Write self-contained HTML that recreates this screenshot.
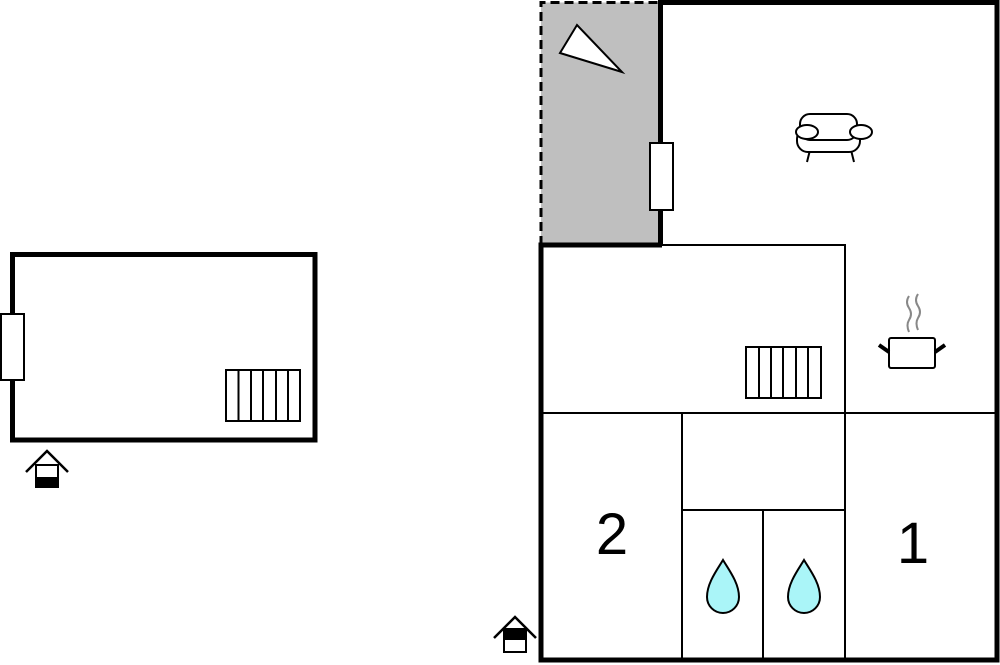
<!DOCTYPE html>
<html><head><style>body{margin:0;background:#fff}svg{display:block}</style></head><body>
<svg width="1000" height="665" viewBox="0 0 1000 665" xmlns="http://www.w3.org/2000/svg" font-family="Liberation Sans, sans-serif">
<rect x="12.5" y="254.5" width="302.5" height="185.5" fill="#fff" stroke="#000" stroke-width="5"/>
<rect x="1" y="314" width="23" height="66" fill="#fff" stroke="#000" stroke-width="2"/>
<g fill="#fff" stroke="#000" stroke-width="2">
<rect x="226" y="370" width="74" height="51"/>
<line x1="238.5" y1="370" x2="238.5" y2="421"/><line x1="251" y1="370" x2="251" y2="421"/><line x1="263" y1="370" x2="263" y2="421"/><line x1="276" y1="370" x2="276" y2="421"/><line x1="288" y1="370" x2="288" y2="421"/>
</g>
<polyline points="26,472 47,451 68,472" fill="none" stroke="#000" stroke-width="2.5"/>
<rect x="36" y="465" width="22" height="22" fill="#fff" stroke="#000" stroke-width="2"/>
<rect x="36" y="477" width="22" height="10" fill="#000"/>
<rect x="541" y="2.5" width="119" height="242" fill="#bfbfbf"/>
<path d="M541 245 V2.5 H660" fill="none" stroke="#000" stroke-width="3" stroke-dasharray="9,5"/>
<polygon points="577,25 560,53 622,72" fill="#fff" stroke="#000" stroke-width="2"/>
<g stroke="#000" stroke-width="2" fill="none">
<polyline points="660,245 845,245 845,660"/>
<line x1="541" y1="413" x2="997" y2="413"/>
<line x1="682" y1="413" x2="682" y2="660"/>
<line x1="682" y1="510" x2="845" y2="510"/>
<line x1="763" y1="510" x2="763" y2="660"/>
</g>
<path d="M660.5 245 V2.5 H997 V660 H541 V245 H662" fill="none" stroke="#000" stroke-width="5"/>
<rect x="650" y="143" width="23" height="67" fill="#fff" stroke="#000" stroke-width="2"/>
<g fill="#fff" stroke="#000" stroke-width="2">
<rect x="746" y="347" width="75" height="51"/>
<line x1="759" y1="347" x2="759" y2="398"/><line x1="771" y1="347" x2="771" y2="398"/><line x1="783" y1="347" x2="783" y2="398"/><line x1="796" y1="347" x2="796" y2="398"/><line x1="808" y1="347" x2="808" y2="398"/>
</g>
<g fill="#fff" stroke="#000" stroke-width="2">
<line x1="810" y1="150" x2="807" y2="162"/><line x1="851" y1="150" x2="854" y2="162"/>
<rect x="797" y="128" width="63" height="24" rx="11"/>
<rect x="800" y="114" width="57" height="26" rx="10"/>
<ellipse cx="807" cy="132" rx="11" ry="7"/>
<ellipse cx="861" cy="132" rx="11" ry="7"/>
</g>
<g stroke="#888" stroke-width="2" fill="none">
<path d="M909 296 q-4 6 0 12 q4 6 0 12 q-3 5 0 12"/>
<path d="M918 294 q-4 6 0 12 q4 6 0 12 q-3 5 0 12"/>
</g>
<rect x="889" y="338" width="46" height="30" rx="2" fill="#fff" stroke="#000" stroke-width="2"/>
<line x1="879" y1="345" x2="889" y2="352" stroke="#000" stroke-width="4"/>
<line x1="935" y1="352" x2="945" y2="345" stroke="#000" stroke-width="4"/>
<path d="M723 560 C717 570 707 583 707 597 A16 16 0 0 0 739 597 C739 583 729 570 723 560 Z" fill="#aaf5f8" stroke="#000" stroke-width="2"/>
<path d="M804 560 C798 570 788 583 788 597 A16 16 0 0 0 820 597 C820 583 810 570 804 560 Z" fill="#aaf5f8" stroke="#000" stroke-width="2"/>
<text x="612" y="554" font-size="58" text-anchor="middle">2</text>
<text x="913" y="563" font-size="58" text-anchor="middle">1</text>
<polyline points="494,638 515,617 536,638" fill="none" stroke="#000" stroke-width="2.5"/>
<rect x="504" y="629" width="22" height="23" fill="#fff" stroke="#000" stroke-width="2"/>
<rect x="504" y="629" width="22" height="11" fill="#000"/>
</svg>
</body></html>
